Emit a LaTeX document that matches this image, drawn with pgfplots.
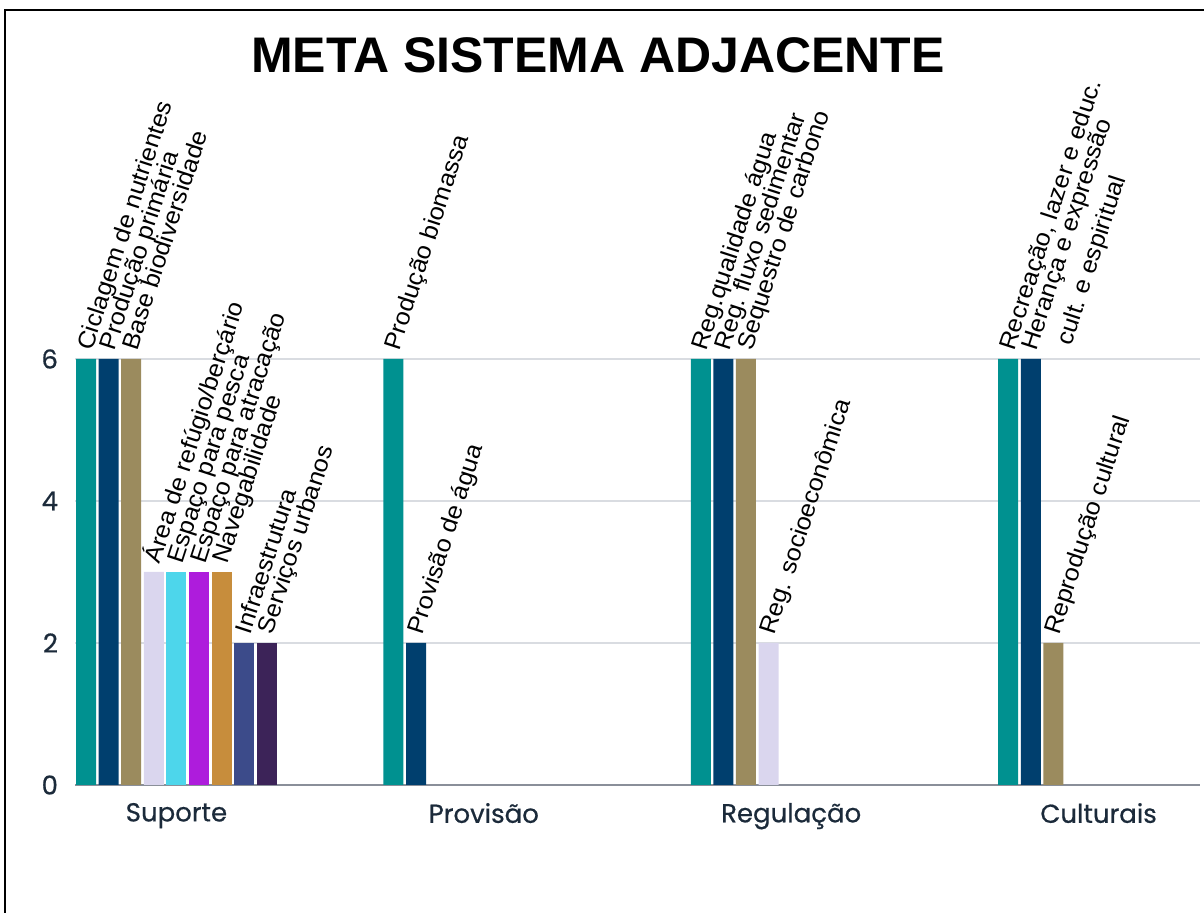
\documentclass[border=0pt]{standalone}
\usepackage{pgfplots}
\pgfplotsset{compat=1.18}
\usepackage{fontspec}
\setmainfont{Liberation Sans}
\newfontfamily\pop{Poppins}[FakeBold=0.6]
\definecolor{c1}{HTML}{009190}
\definecolor{c2}{HTML}{003F6E}
\definecolor{c3}{HTML}{9B8B5E}
\definecolor{c4}{HTML}{DAD6EE}
\definecolor{c5}{HTML}{4DD6EB}
\definecolor{c6}{HTML}{AE1CDC}
\definecolor{c7}{HTML}{C78D3C}
\definecolor{c8}{HTML}{3C4B8A}
\definecolor{c9}{HTML}{3C2358}
\definecolor{gridc}{HTML}{D9DCE1}
\definecolor{axisc}{HTML}{8A8F99}
\definecolor{tickc}{HTML}{1B2A3A}
\begin{document}
\begin{tikzpicture}
\useasboundingbox (0,0) rectangle (602pt,456.5pt);
\draw[line width=1pt] (2.5pt,0) -- (2.5pt,451.5pt) -- (602pt,451.5pt);
\node[font=\bfseries\fontsize{25}{30}\selectfont] at (299pt,429pt) {META SISTEMA ADJACENTE};
\begin{axis}[
  at={(37.5pt,64pt)}, anchor=south west,
  scale only axis, width=562.5pt, height=213pt,
  xmin=-0.33, xmax=3.33, ymin=0, ymax=6,
  clip=false,
  ybar=1.3pt, bar width=10pt,
  xtick={0,1,2,3}, xticklabels={Suporte,Provisão,Regulação,Culturais},
  ytick={0,2,4,6},
  /pgf/number format/assume math mode=true,
  axis x line*=bottom, axis y line*=left,
  x axis line style={-, color=axisc, line width=0.8pt},
  y axis line style={draw=none},
  major tick length=0pt,
  ymajorgrids, grid style={color=gridc, line width=0.7pt},
  xticklabel style={font=\pop\fontsize{13}{15}\selectfont, text=tickc, yshift=-5.5pt},
  yticklabel style={font=\pop\fontsize{13}{15}\selectfont, text=tickc, xshift=-5pt},
  point meta=explicit symbolic,
  nodes near coords={\pgfplotspointmeta},
  every node near coord/.append style={font=\fontsize{12}{12}\selectfont, text=black, inner sep=0pt, xshift=3pt, yshift=3.5pt, rotate=72, xscale=1.06, anchor=base west},
  every axis plot/.append style={draw=none},
]
\addplot[fill=c1] coordinates {(0,6) [{Ciclagem de nutrientes}] (1,6) [{Produção biomassa}] (2,6) [{Reg.qualidade água}] (3,6) [{Recreação, lazer e educ.}]};
\addplot[fill=c2] coordinates {(0,6) [{Produção primária}] (1,2) [{Provisão de água}] (2,6) [{Reg.\ fluxo sedimentar}] (3,6) [{\renewcommand{\arraystretch}{1.3}\begin{tabular}[t]{@{}l@{}}Herança e expressão\\\hspace*{0.6em}cult.\ e espiritual\end{tabular}}]};
\addplot[fill=c3] coordinates {(0,6) [{Base biodiversidade}] (2,6) [{Sequestro de carbono}] (3,2) [{Reprodução cultural}]};
\addplot[fill=c4] coordinates {(0,3) [{Área de refúgio/berçário}] (2,2) [{Reg. socioeconômica}]};
\addplot[fill=c5] coordinates {(0,3) [{Espaço para pesca}]};
\addplot[fill=c6] coordinates {(0,3) [{Espaço para atracação}]};
\addplot[fill=c7] coordinates {(0,3) [{Navegabilidade}]};
\addplot[fill=c8] coordinates {(0,2) [{Infraestrutura}]};
\addplot[fill=c9] coordinates {(0,2) [{Serviços urbanos}]};
\end{axis}
\end{tikzpicture}
\end{document}
